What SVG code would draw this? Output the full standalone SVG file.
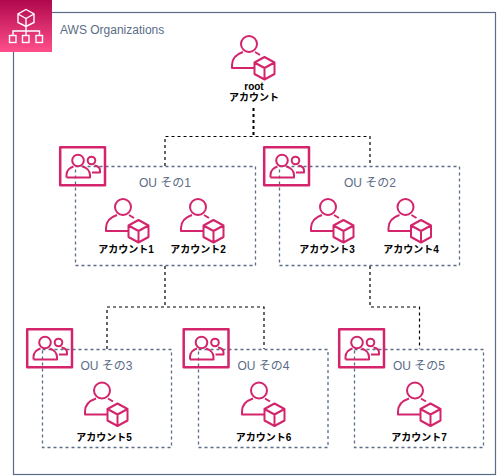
<svg xmlns="http://www.w3.org/2000/svg" width="497" height="476" viewBox="0 0 497 476">
<style>
text{font-family:"Liberation Sans","Noto Sans CJK JP",sans-serif}
.lbl{font-size:12px;fill:#5A6C86}
.acc{font-size:10px;font-weight:bold;fill:#000;text-anchor:middle}
.ou{fill:none;stroke:#5A6C86;stroke-dasharray:3 3;stroke-width:1.300}
.con{fill:none;stroke:#000;stroke-width:1.200;stroke-dasharray:3 3}
.ic{fill:none;stroke:#D3246C;stroke-width:2;stroke-linejoin:round}
</style>
<defs>
<linearGradient id="g" x1="0" y1="1" x2="0" y2="0"><stop offset="0" stop-color="#FF4F8B"/><stop offset="1" stop-color="#B0084D"/></linearGradient>
<g id="a" class="ic">
<circle cx="0" cy="0" r="8"/>
<path d="M5 24H-17V21C-17 14-12 10-6 8M6 8L11 11"/>
<path d="M15.500 13L25.500 18.500V30L15.500 35.500L5.500 30V18.500ZM5.500 18.500L15.500 24L25.500 18.500M15.500 24V35.500"/>
</g>
<g id="o" class="ic">
<rect x="1.200" y="1.200" width="44.800" height="38" stroke-width="2.500"/>
<circle cx="19" cy="14.500" r="5.800"/>
<path d="M7.500 31.500V29C7.500 24.500 11 21.500 14.500 20.500M23.500 20.500C27 21.500 31 24.500 31 29V31.500H7.500"/>
<circle cx="32.500" cy="14.500" r="3.800"/>
<path d="M35.500 19.500C38.500 20 41 22 41 24.500V26.500H33"/>
</g>
</defs>
<g id="aws-organizations">
<rect x="13.500" y="12.500" width="482" height="462" fill="none" stroke="#5A6C86" stroke-width="1.200"/>
<rect x="0" y="0" width="52" height="52" fill="url(#g)"/>
<g fill="none" stroke="#fff" stroke-width="1.400">
<path d="M26 9.500L34 14V22.500L26 26.500L18 22.500V14ZM18 14L26 18.500L34 14M26 18.500V26.500"/>
<path d="M26 26.500V35M13 35V31H39.500V35"/>
<rect x="9.500" y="35.500" width="6.500" height="7"/>
<rect x="22.500" y="35.500" width="6.500" height="7"/>
<rect x="36" y="35.500" width="6.500" height="7"/>
</g>
<text class="lbl" x="60" y="34">AWS Organizations</text>
</g>
<g id="connectors">
<path class="con" d="M253.500 108V136" style="stroke-width:2"/>
<path class="con" d="M165 166V136.500H370V166"/>
<path class="con" d="M165 266V307M107 349V307H264V349"/>
<path class="con" d="M370 266V307H419.500V349"/>
</g>
<g id="root"><use href="#a" x="249" y="44"/><text class="acc" x="254" y="90">root</text><text class="acc" x="254" y="101">アカウント</text></g>
<g id="ou1">
<rect class="ou" x="75.500" y="166.500" width="180" height="99"/>
<use href="#o" x="59" y="146"/>
<text class="lbl" x="165" y="187" text-anchor="middle">OU その1</text>
</g>
<g id="account1"><use href="#a" x="123" y="207"/><text class="acc" x="126" y="253">アカウント1</text></g>
<g id="account2"><use href="#a" x="198" y="207"/><text class="acc" x="198" y="253">アカウント2</text></g>
<g id="ou2">
<rect class="ou" x="279.500" y="166.500" width="180" height="99"/>
<use href="#o" x="263" y="146"/>
<text class="lbl" x="370" y="187" text-anchor="middle">OU その2</text>
</g>
<g id="account3"><use href="#a" x="328" y="207"/><text class="acc" x="327" y="253">アカウント3</text></g>
<g id="account4"><use href="#a" x="405.500" y="207"/><text class="acc" x="411" y="253">アカウント4</text></g>
<g id="ou3">
<rect class="ou" x="42.500" y="349.500" width="129" height="98"/>
<use href="#o" x="26" y="328"/>
<text class="lbl" x="106.500" y="370" text-anchor="middle">OU その3</text>
</g>
<g id="account5"><use href="#a" x="102" y="390.500"/><text class="acc" x="104" y="441">アカウント5</text></g>
<g id="ou4">
<rect class="ou" x="198.500" y="349.500" width="129.500" height="98"/>
<use href="#o" x="182.500" y="328"/>
<text class="lbl" x="263.500" y="370" text-anchor="middle">OU その4</text>
</g>
<g id="account6"><use href="#a" x="259" y="390.500"/><text class="acc" x="263.500" y="441">アカウント6</text></g>
<g id="ou5">
<rect class="ou" x="354.500" y="349.500" width="129" height="98"/>
<use href="#o" x="338" y="328"/>
<text class="lbl" x="419" y="370" text-anchor="middle">OU その5</text>
</g>
<g id="account7"><use href="#a" x="415" y="390.500"/><text class="acc" x="419" y="441">アカウント7</text></g>
</svg>
